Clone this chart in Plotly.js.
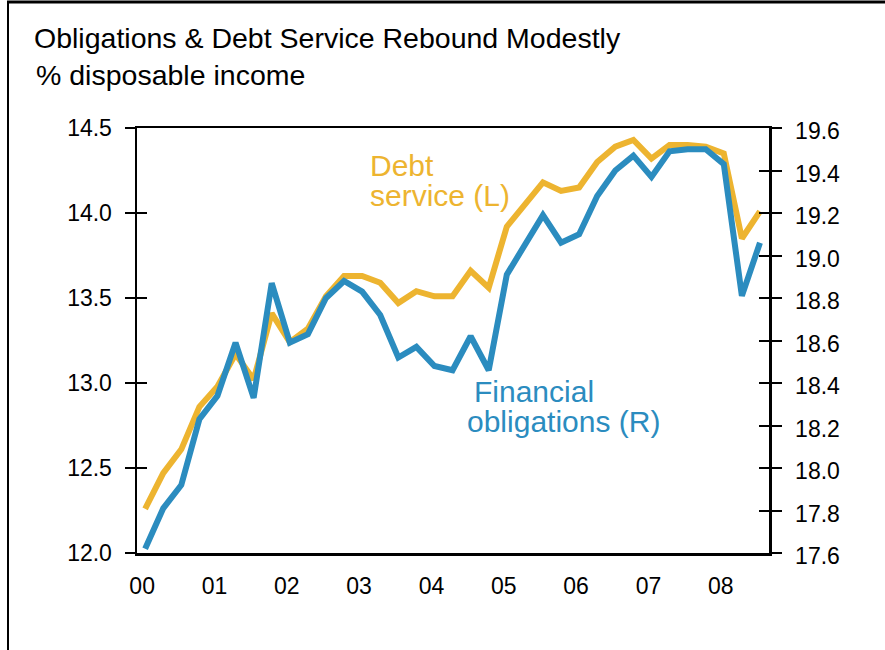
<!DOCTYPE html>
<html>
<head>
<meta charset="utf-8">
<script src="https://cdn.plot.ly/plotly-3.0.1.min.js"></script>
<style>
  html, body { margin: 0; padding: 0; background: #ffffff; }
  #chart { width: 885px; height: 650px; }
</style>
</head>
<body>
<div id="chart"></div>
<script>
// Quarterly observations, 2000 Q1 – 2008 Q3
const quarters = [
  "2000Q1","2000Q2","2000Q3","2000Q4",
  "2001Q1","2001Q2","2001Q3","2001Q4",
  "2002Q1","2002Q2","2002Q3","2002Q4",
  "2003Q1","2003Q2","2003Q3","2003Q4",
  "2004Q1","2004Q2","2004Q3","2004Q4",
  "2005Q1","2005Q2","2005Q3","2005Q4",
  "2006Q1","2006Q2","2006Q3","2006Q4",
  "2007Q1","2007Q2","2007Q3","2007Q4",
  "2008Q1","2008Q2","2008Q3"
];

// Debt service ratio (left axis, % disposable income)
const debtService = [
  12.26, 12.47, 12.61, 12.86,
  12.98, 13.17, 13.02, 13.41,
  13.24, 13.32, 13.51, 13.63,
  13.63, 13.59, 13.47, 13.54,
  13.51, 13.51, 13.66, 13.56,
  13.92, 14.05, 14.18, 14.13,
  14.15, 14.30, 14.39, 14.43,
  14.32, 14.40, 14.40, 14.39,
  14.35, 13.85, 14.01
];

// Financial obligations ratio (right axis, % disposable income)
const financialObligations = [
  17.62, 17.81, 17.92, 18.23,
  18.34, 18.59, 18.33, 18.87,
  18.59, 18.63, 18.80, 18.88,
  18.83, 18.72, 18.52, 18.57,
  18.48, 18.46, 18.62, 18.46,
  18.91, 19.05, 19.19, 19.06,
  19.10, 19.28, 19.40, 19.47,
  19.37, 19.49, 19.50, 19.50,
  19.43, 18.81, 19.06
];

const yearLabels = ["00","01","02","03","04","05","06","07","08"];

const leftTicks = [12.0, 12.5, 13.0, 13.5, 14.0, 14.5];
const rightTicks = [17.6, 17.8, 18.0, 18.2, 18.4, 18.6, 18.8, 19.0, 19.2, 19.4, 19.6];

const YELLOW = "#EDB430";
const BLUE = "#2B8CBF";
const FONT = "Liberation Sans, Arial, Helvetica, sans-serif";

const xIdx = quarters.map((q, i) => i);
const yearTickVals = yearLabels.map((l, i) => i * 4);

const traces = [
  {
    x: xIdx, y: debtService, type: "scatter", mode: "lines",
    line: { color: YELLOW, width: 6 }, xaxis: "x", yaxis: "y",
    hoverinfo: "skip", showlegend: false, name: "Debt service (L)"
  },
  {
    x: xIdx, y: financialObligations, type: "scatter", mode: "lines",
    line: { color: BLUE, width: 6 }, xaxis: "x", yaxis: "y2",
    hoverinfo: "skip", showlegend: false, name: "Financial obligations (R)"
  },
  { x: [], y: [], type: "scatter", mode: "lines", xaxis: "x", yaxis: "y3", showlegend: false, hoverinfo: "skip" },
  { x: [], y: [], type: "scatter", mode: "lines", xaxis: "x", yaxis: "y4", showlegend: false, hoverinfo: "skip" }
];

// plot area in pixels (for converting paper coordinates)
const L = 137, R = 769, T = 128, B = 553;
const px = (p) => (p - L) / (R - L);
const py = (p) => 1 - (p - T) / (B - T);

const layout = {
  width: 885, height: 650,
  margin: { l: L, r: 885 - R, t: T, b: 650 - B, pad: 0 },
  paper_bgcolor: "#ffffff", plot_bgcolor: "#ffffff",
  font: { family: FONT, color: "#000000", size: 23 },
  showlegend: false,
  xaxis: {
    range: [-0.45, 34.5],
    tickvals: yearTickVals, ticktext: yearLabels,
    ticks: "", showgrid: false, zeroline: false,
    showline: true, linecolor: "#000000", linewidth: 2.5, mirror: true,
    tickfont: { size: 23, family: FONT }, ticklabelstandoff: 11, ticklabelshift: -3
  },
  yaxis: {
    range: [12, 14.5], tickvals: leftTicks, tickformat: ".1f",
    ticks: "outside", ticklen: 10, tickwidth: 2, tickcolor: "#000000",
    showgrid: false, zeroline: false,
    showline: true, linecolor: "#000000", linewidth: 2.5,
    tickfont: { size: 23, family: FONT }, ticklabelstandoff: 8
  },
  yaxis2: {
    range: [17.6, 19.6], tickvals: rightTicks, tickformat: ".1f",
    overlaying: "y", side: "right",
    ticks: "outside", ticklen: 10, tickwidth: 2, tickcolor: "#000000",
    showgrid: false, zeroline: false,
    showline: true, linecolor: "#000000", linewidth: 2.5,
    tickfont: { size: 23, family: FONT }, ticklabelstandoff: 9, ticklabelshift: 3
  },
  yaxis3: {
    range: [12, 14.5], tickvals: leftTicks, overlaying: "y", side: "left",
    ticks: "inside", ticklen: 10, tickwidth: 2, tickcolor: "#000000",
    showticklabels: false, showgrid: false, zeroline: false, showline: false
  },
  yaxis4: {
    range: [17.6, 19.6], tickvals: rightTicks, overlaying: "y", side: "right",
    ticks: "inside", ticklen: 10, tickwidth: 2, tickcolor: "#000000",
    showticklabels: false, showgrid: false, zeroline: false, showline: false
  },
  annotations: [
    { text: "Obligations & Debt Service Rebound Modestly", xref: "paper", yref: "paper",
      x: px(32), y: py(38), xanchor: "left", yanchor: "middle", showarrow: false,
      font: { size: 28.5, family: FONT, color: "#000000" } },
    { text: "% disposable income", xref: "paper", yref: "paper",
      x: px(34), y: py(75), xanchor: "left", yanchor: "middle", showarrow: false,
      font: { size: 28.5, family: FONT, color: "#000000" } },
    { text: "Debt", xref: "paper", yref: "paper",
      x: px(368), y: py(165), xanchor: "left", yanchor: "middle", showarrow: false,
      font: { size: 30, family: FONT, color: YELLOW } },
    { text: "service (L)", xref: "paper", yref: "paper",
      x: px(368), y: py(195), xanchor: "left", yanchor: "middle", showarrow: false,
      font: { size: 30, family: FONT, color: YELLOW } },
    { text: "Financial", xref: "paper", yref: "paper",
      x: px(472), y: py(391), xanchor: "left", yanchor: "middle", showarrow: false,
      font: { size: 30, family: FONT, color: BLUE } },
    { text: "obligations (R)", xref: "paper", yref: "paper",
      x: px(465), y: py(421), xanchor: "left", yanchor: "middle", showarrow: false,
      font: { size: 30, family: FONT, color: BLUE } }
  ],
  shapes: [
    { type: "line", xref: "paper", yref: "paper", x0: px(7), x1: px(885), y0: py(2), y1: py(2),
      line: { color: "#000000", width: 3 } },
    { type: "line", xref: "paper", yref: "paper", x0: px(8), x1: px(8), y0: py(1), y1: py(650),
      line: { color: "#000000", width: 2 } }
  ]
};

Plotly.newPlot("chart", traces, layout, { staticPlot: true, displayModeBar: false });
</script>
</body>
</html>
